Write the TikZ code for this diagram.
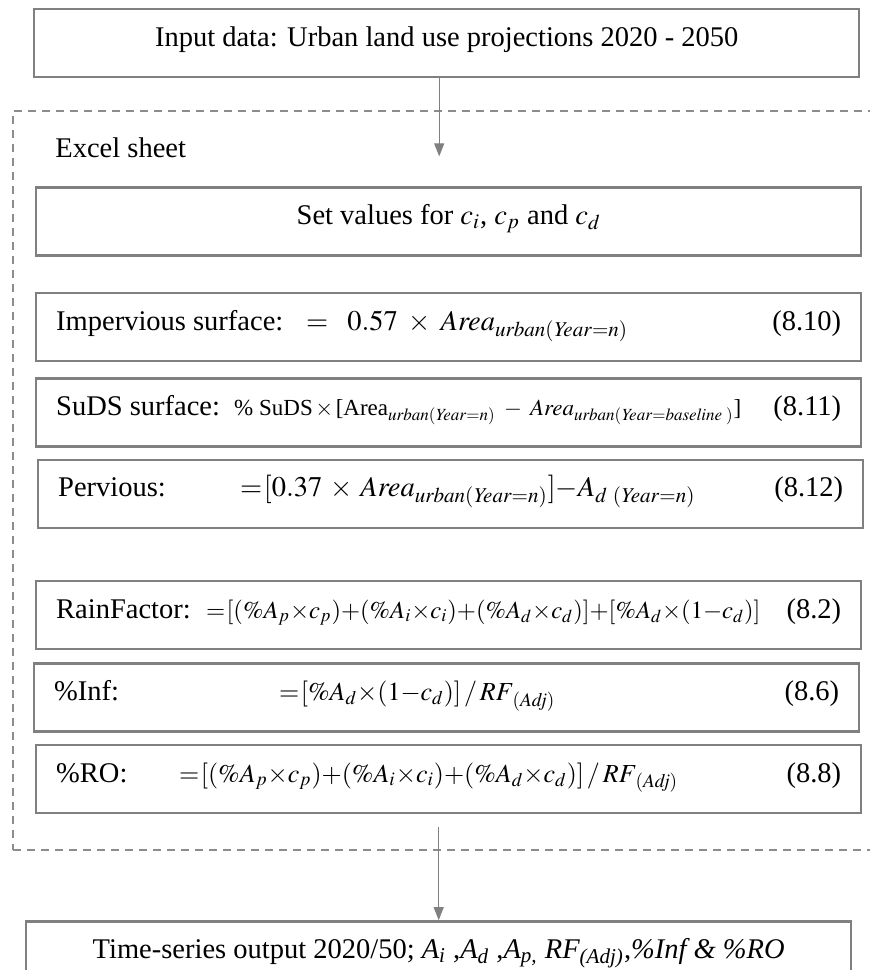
\documentclass[tikz,border=0pt]{standalone}
\usepackage{mathptmx}
\usepackage{fontspec}
\setmainfont{Liberation Serif}
\usepackage{tikz}
\usetikzlibrary{arrows.meta,positioning}
\definecolor{boxgray}{RGB}{128,128,128}
\definecolor{dashgray}{RGB}{140,140,140}
% tight spacing round = + x, as the formulas are set closely
\newcommand{\tightmath}{\medmuskip=0mu\relax\thickmuskip=1mu\relax}
% one formula row: label column, formula, number on the right
\newcommand{\eqrow}[4]{\hbox to 392.5pt{\makebox[#1][l]{#2}#3\hfill#4}}
\newcommand{\eqsmall}{\fontsize{13}{15}\selectfont}
\tikzset{
  box/.style={draw=boxgray, line width=1.2pt, minimum width=412.5pt,
              inner xsep=10pt, inner ysep=0pt, text height=18.5pt, text depth=15.5pt,
              font=\fontsize{14.25}{17}\selectfont},
  sheetframe/.style={draw=dashgray, line width=0.9pt, dash pattern=on 4pt off 3pt,
              minimum width=444pt, minimum height=369.5pt, inner sep=0pt},
  lbl/.style={inner sep=0pt, font=\fontsize{14.25}{17}\selectfont},
  flow/.style={-{Triangle[length=6.5pt,width=5pt]}, draw=boxgray, line width=0.5pt},
}

\begin{document}
\begin{tikzpicture}[x=0.5pt, y=-0.5pt]
  \useasboundingbox (0,0) rectangle (869,970);
  % input
  \node[box, anchor=north west] (input) at (33,8)
    {Input data: Urban land use projections 2020 - 2050};
  % excel sheet frame
  \node[sheetframe, anchor=north west] (sheet) at (12,110) {};
  \node[lbl, anchor=base west] (xl) at ([xshift=21.5pt, yshift=-23.5pt]sheet.north west) {Excel sheet};
  \node[box, below=54pt of input.south west, anchor=north west, xshift=1pt] (setv)
    {Set values for $c_i$, $c_p$ and $c_d$};
  % surfaces
  \node[box, below=17.5pt of setv.south west, anchor=north west] (imp)
    {\eqrow{125pt}{Impervious surface:}{$=\;\;0.57\;\times\;\mathit{Area}_{\mathit{urban}(\mathit{Year}=n)}$}{(8.10)}};
  \node[box, below=7.5pt of imp.south west, anchor=north west] (suds)
    {\eqrow{89pt}{SuDS surface:}{{\fontsize{11.5}{14}\selectfont\% SuDS$\,\times\,$[Area$_{\mathit{urban}(\mathit{Year}=n)}\;-\;\mathit{Area}_{\mathit{urban}(\mathit{Year}=\mathit{baseline}\;)}$]}}{(8.11)}};
  \node[box, below=5.5pt of suds.south west, anchor=north west, xshift=1pt] (perv)
    {\eqrow{91pt}{Pervious:}{$\tightmath=[0.37\mskip5mu\times\mskip5mu\mathit{Area}_{\mathit{urban}(\mathit{Year}=n)}]-A_{d\mskip5mu(\mathit{Year}=n)}$}{(8.12)}};
  % factors
  \node[box, below=25.5pt of perv.south west, anchor=north west, xshift=-1pt] (rain)
    {\eqrow{75pt}{RainFactor:}{{\fontsize{12.3}{15}\selectfont$\tightmath=[(\%A_p\times c_p)+(\%A_i\times c_i)+(\%A_d\times c_d)]+[\%A_d\times(1-c_d)]$}}{(8.2)}};
  \node[box, below=6pt of rain.south west, anchor=north west, xshift=-1pt] (inf)
    {\eqrow{112.5pt}{\%Inf:}{{\eqsmall$\tightmath=[\%A_d\times(1-c_d)]\,/\,\mathit{RF}_{(\mathit{Adj})}$}}{(8.6)}};
  \node[box, below=5.5pt of inf.south west, anchor=north west, xshift=1pt] (ro)
    {\eqrow{61.5pt}{\%RO:}{{\eqsmall$\tightmath=[(\%A_p\times c_p)+(\%A_i\times c_i)+(\%A_d\times c_d)]\,/\,\mathit{RF}_{(\mathit{Adj})}$}}{(8.8)}};
  % output
  \node[box, below=53pt of ro.south west, anchor=north west, xshift=-5pt] (output)
    {Time-series output 2020/50; \textit{A\textsubscript{i}} ,\textit{A\textsubscript{d}} ,\textit{A\textsubscript{p,}} \textit{RF\textsubscript{(Adj)}},\textit{\%Inf \& \%RO}};
  \coordinate (tip1) at ([xshift=-3.75pt, yshift=-39pt]input.south);
  \coordinate (tail2) at ([yshift=46.5pt]output.north);
  \draw[flow] (input.south -| tip1) -- (tip1);
  \draw[flow] (tail2) -- (output.north);
\end{tikzpicture}
\end{document}
